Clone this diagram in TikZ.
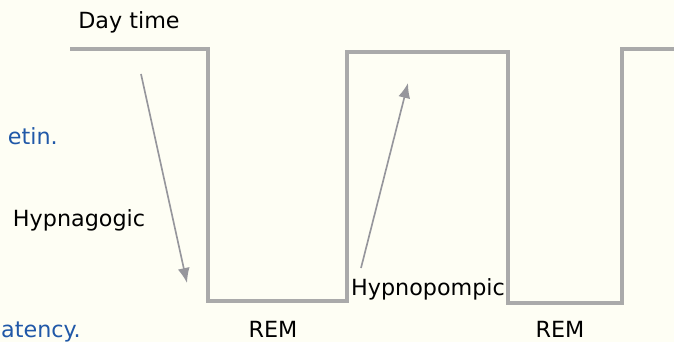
\documentclass[tikz,border=0pt]{standalone}
\usepackage{fontspec}
\setmainfont{DejaVu Sans}
\usetikzlibrary{arrows.meta}
\definecolor{bgcream}{RGB}{254,254,244}
\definecolor{wavegray}{RGB}{170,170,170}
\definecolor{arrowgray}{RGB}{150,150,156}
\definecolor{noteblue}{RGB}{32,88,168}

\begin{document}
\begin{tikzpicture}[x=0.03cm,y=-0.03cm,
  lbl/.style={font=\fontsize{19}{23}\selectfont,inner sep=0pt,anchor=base},
  note/.style={lbl,text=noteblue},
  phase/.style={-{Latex[length=4.5mm,width=3.6mm]},arrowgray,line width=1.4pt}]
\fill[bgcream] (0,0) rectangle (674,342);
\useasboundingbox (0,0) rectangle (674,342);
% sleep levels
\draw[wavegray,line width=2.8pt] (70,49) -- (208,49) -- (208,301) -- (347,301) -- (347,52) -- (508,52) -- (508,303) -- (622,303) -- (622,49) -- (674,49);
% labels
\node[lbl] (day) at (129,29) {Day time};
\node[lbl] (hgog) at (79,226) {Hypnagogic};
\node[lbl] (hpomp) at (428,295) {Hypnopompic};
\node[lbl] (rem1) at (273,337) {REM};
\node[lbl] (rem2) at (560,337) {REM};
\node[note,anchor=base east] (orex) at (58,145) {etin.};
\node[note,anchor=base west] (lat) at (1,337) {atency.};
% transitions
\coordinate (goS) at (141,74);
\coordinate (goE) at (187,283);
\coordinate (pompS) at (361,268);
\coordinate (pompE) at (408,83);
\draw[phase] (goS) -- (goE);
\draw[phase] (pompS) -- (pompE);
\end{tikzpicture}
\end{document}
